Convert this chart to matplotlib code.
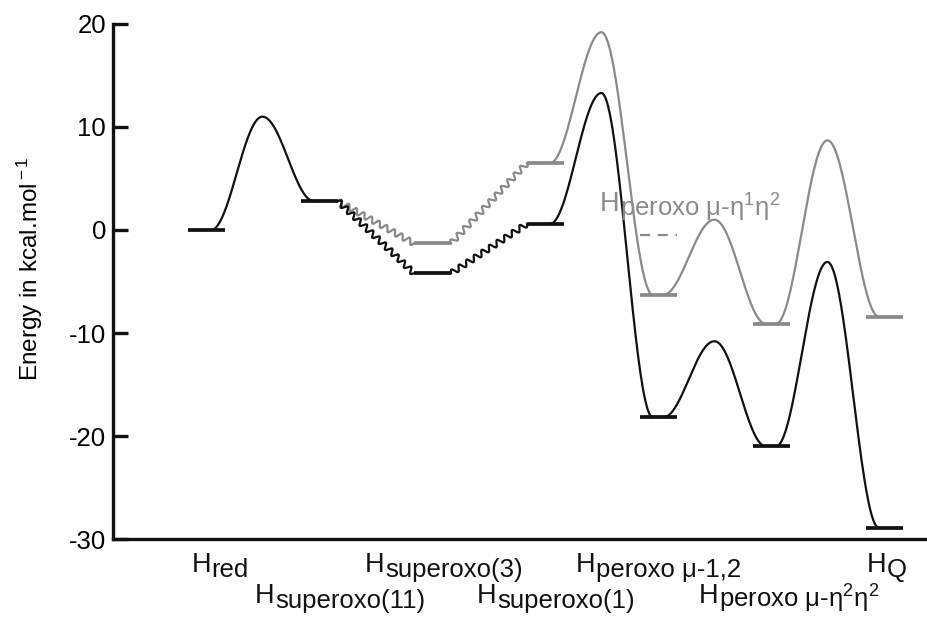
import numpy as np
import matplotlib
matplotlib.use("Agg")
import matplotlib.pyplot as plt
from matplotlib.transforms import IdentityTransform

plt.rcParams['font.family'] = ['Liberation Sans', 'DejaVu Sans']
plt.rcParams['mathtext.fontset'] = 'custom'
plt.rcParams['mathtext.rm'] = 'Liberation Sans'
plt.rcParams['mathtext.it'] = 'Liberation Sans:italic'
plt.rcParams['mathtext.bf'] = 'Liberation Sans:bold'

# ---------------- data ----------------
states_main = ["H", "H", "H", "H", "H", "H", "H"]
states_sub = ["red", "superoxo(11)", "superoxo(3)", "superoxo(1)",
              "peroxo μ-1,2", "peroxo μ-η$^{\\rm 2}$η$^{\\rm 2}$", "Q"]
black_levels = [0.0, 2.8, -4.2, 0.6, -18.2, -21.0, -28.9]
black_ts = [11.0, None, None, 13.3, -10.8, -3.1]      # None -> wavy link
gray_levels = [None, 2.8, -1.3, 6.5, -6.3, -9.1, -8.4]
gray_ts = [None, None, None, 19.2, 1.0, 8.7]
gray_level_drawn = [False, False, True, True, True, True, True]
dashed_level_x = 4
dashed_level_y = -0.5
gray_label_main = "H"
gray_label_sub = "peroxo μ-η$^{\\rm 1}$η$^{\\rm 2}$"
yticks = [-30, -20, -10, 0, 10, 20]

BLACK = "#111111"
GRAY = "#8a8a8a"
HALF = 0.164

fig = plt.figure(figsize=(9.28, 6.18), dpi=100)
ax = fig.add_axes([0.1218, 0.1278, 0.8782, 0.8334])
ax.set_xlim(-0.827, 6.385)
ax.set_ylim(-30, 20)

for s in ["top", "right"]:
    ax.spines[s].set_visible(False)
ax.spines["left"].set_linewidth(2.4)
ax.spines["bottom"].set_linewidth(2.4)
ax.spines["left"].set_color(BLACK)
ax.spines["bottom"].set_color(BLACK)
ax.set_xticks([])
ax.set_yticks(yticks)
ax.set_yticklabels([str(v) for v in yticks])
ax.tick_params(axis="y", direction="in", length=11, width=2.4, labelsize=18.5,
               pad=5, color=BLACK)
ax.set_ylabel("Energy in kcal.mol$^{\\rm -1}$", fontsize=17.5)
ax.yaxis.set_label_coords(-0.083, 0.524)


def barrier(x0, y0, x1, y1, peak, color):
    xm = 0.5 * (x0 + x1)
    t = np.linspace(0, 1, 100)
    xa = x0 + (xm - x0) * t
    ya = y0 + (peak - y0) * (1 - np.cos(np.pi * t)) / 2
    xb = xm + (x1 - xm) * t
    yb = peak + (y1 - peak) * (1 - np.cos(np.pi * t)) / 2
    ax.plot(np.r_[xa, xb], np.r_[ya, yb], color=color, lw=1.6,
            solid_capstyle="round", zorder=2)


def wavy(x0, y0, x1, y1, color, wl=9.0, amp=2.9):
    p0 = ax.transData.transform((x0, y0))
    p1 = ax.transData.transform((x1, y1))
    d = p1 - p0
    L = np.hypot(*d)
    n = max(1, int(round(L / wl)))
    u = d / L
    nrm = np.array([-u[1], u[0]])
    s = np.linspace(0, 1, 60 * n)
    pts = p0[None, :] + s[:, None] * d[None, :] + \
        (amp * np.sin(2 * np.pi * n * s))[:, None] * nrm[None, :]
    dat = ax.transData.inverted().transform(pts)
    ax.plot(dat[:, 0], dat[:, 1], color=color, lw=1.6, zorder=2)


def series(levels, ts, color, drawn):
    n = len(levels)
    for i in range(n - 1):
        if levels[i] is None or levels[i + 1] is None:
            continue
        if ts[i] is None:
            wavy(i + HALF, levels[i], i + 1 - HALF, levels[i + 1], color)
        else:
            barrier(i + 0.04, levels[i], i + 1 - 0.05, levels[i + 1], ts[i], color)
    for i in range(n):
        if levels[i] is not None and drawn[i]:
            ax.plot([i - HALF, i + HALF], [levels[i]] * 2, color=color, lw=2.7,
                    solid_capstyle="butt", zorder=3)


series(gray_levels, gray_ts, GRAY, gray_level_drawn)
series(black_levels, black_ts, BLACK, [True] * 7)

ax.plot([dashed_level_x - HALF, dashed_level_x + HALF], [dashed_level_y] * 2,
        color=GRAY, lw=1.6, linestyle=(0, (4.5, 3.5)), zorder=2)

# ---------------- labels ----------------
fig.canvas.draw()
renderer = fig.canvas.get_renderer()
IDT = IdentityTransform()


def two_part(xc, y_base, main, sub, size, color, sub_scale=0.95, drop=5.0,
             ha="center"):
    t1 = fig.text(0, 0, main, fontsize=size, color=color, transform=IDT,
                  ha="left", va="baseline")
    t2 = fig.text(0, 0, sub, fontsize=size * sub_scale, color=color,
                  transform=IDT, ha="left", va="baseline")
    w1 = t1.get_window_extent(renderer).width
    w2 = t2.get_window_extent(renderer).width
    left = xc - (w1 + w2) / 2 if ha == "center" else xc
    t1.set_position((left, y_base))
    t2.set_position((left + w1 + 0.5, y_base - drop))


label_dx = [0.12, 0.18, 0.10, 0.09, 0.0, 0.15, 0.02]
label_row_y = [46, 15]
for i in range(7):
    xp = ax.transData.transform((i + label_dx[i], 0))[0]
    two_part(xp, label_row_y[i % 2], states_main[i], states_sub[i], 19.5, BLACK)

xg, yg = ax.transData.transform((3.48, 1.8))
two_part(xg, yg, gray_label_main, gray_label_sub, 19.5, GRAY, ha="left")

fig.savefig("out.png", dpi=100)
